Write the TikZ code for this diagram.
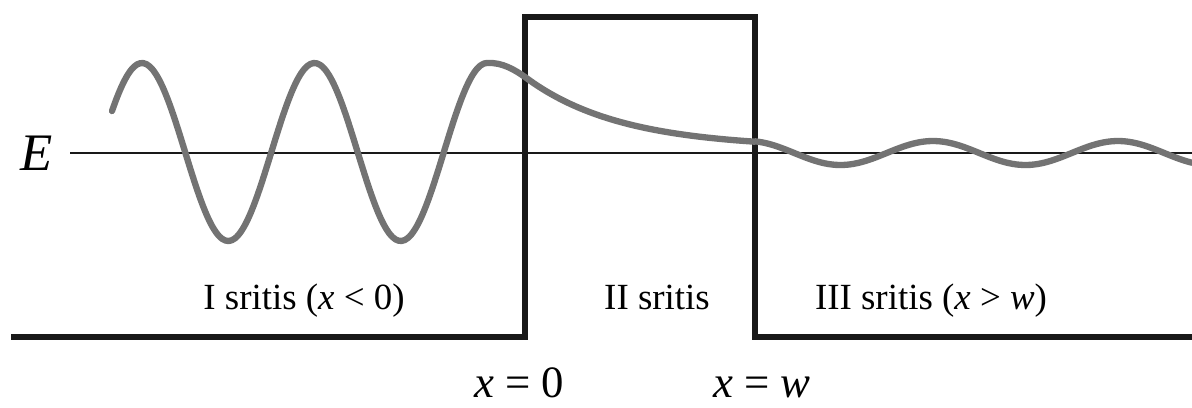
\documentclass[tikz,border=0pt]{standalone}
\usepackage{fontspec}
\setmainfont{Liberation Serif}
\usetikzlibrary{positioning}

\tikzset{
    barrier/.style={line width=3.4pt, black!90, line join=miter},
    level/.style={line width=1.1pt, black!90},
    wave/.style={line width=3.6pt, black!55, line join=round, line cap=round},
    lbl/.style={font=\fontsize{21}{21}\selectfont, anchor=base, inner sep=0pt},
    xlbl/.style={font=\fontsize{25.5}{25.5}\selectfont, anchor=base, inner sep=0pt}
}

\begin{document}
\begin{tikzpicture}[x=0.2mm, y=-0.2mm]
    \useasboundingbox (0,0) rectangle (1192,407);

    % Energy level
    \node[font=\fontsize{30}{30}\selectfont\itshape, inner sep=0pt] (E) at (37,153) {E};
    \coordinate (eStart) at (70,153);
    \coordinate (eEnd) at (1192,153);
    \draw[level] (eStart) -- (eEnd);

    % Potential barrier
    \draw[barrier] (11,337) -- (525,337) -- (525,17) -- (755,17) -- (755,337) -- (1192,337);

    % Wave function: incident, decaying, transmitted
    \draw[wave] plot[domain=112:487, samples=120, smooth] (\x,{152-89*cos(2.087*(\x-142))})
        .. controls (502,62) and (515,70) .. (525,77)
        -- plot[domain=525:755, samples=60, smooth] (\x,{153-(5+71*exp(-(\x-525)/95))})
        -- plot[domain=755:1192, samples=120, smooth] (\x,{153-12*cos(1.9459*(\x-933))});

    % Region labels
    \node[lbl] (regI) at (304,309) {I sritis (\textit{x} < 0)};
    \node[lbl] (regII) at (657,309) {II sritis};
    \node[lbl] (regIII) at (931,309) {III sritis (\textit{x} > \textit{w})};

    % Wall positions
    \node[xlbl] (xzero) at (519,397) {\textit{x} = 0};
    \node[xlbl] (xw) at (762,397) {\textit{x} = \textit{w}};
\end{tikzpicture}
\end{document}
